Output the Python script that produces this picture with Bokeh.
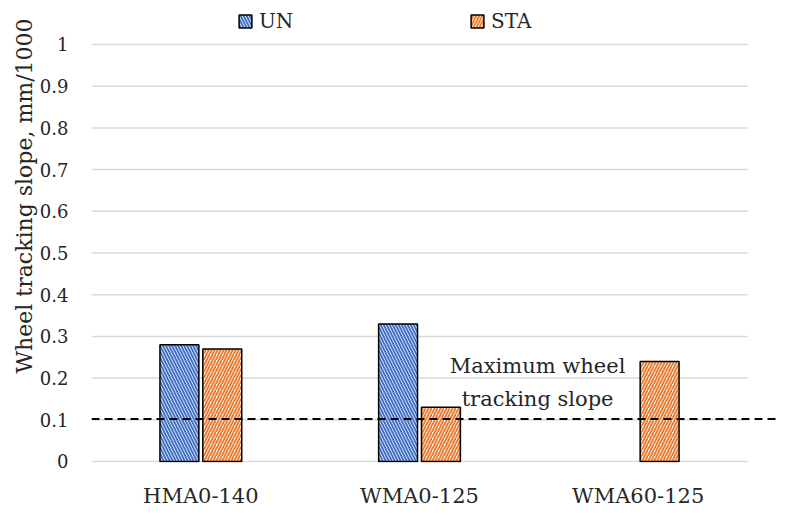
import numpy as np
from bokeh.plotting import figure
from bokeh.models import Range1d, FixedTicker, Span, Title, Legend, LegendItem, ColumnDataSource
from bokeh.embed import file_html
from bokeh.resources import INLINE

# ---- data ----
categories = ["HMA0-140", "WMA0-125", "WMA60-125"]
un_values = [0.28, 0.33, None]
sta_values = [0.27, 0.13, 0.24]
y_ticks = [0, 0.1, 0.2, 0.3, 0.4, 0.5, 0.6, 0.7, 0.8, 0.9, 1.0]
y_tick_labels = ["0", "0.1", "0.2", "0.3", "0.4", "0.5", "0.6", "0.7", "0.8", "0.9", "1"]
limit_value = 0.102
limit_text = ["Maximum wheel", "tracking slope"]
y_title = "Wheel tracking slope, mm/1000"

FONT = "DejaVu Serif"
TXT = "#262626"
BLUE = "#4472C4"
ORANGE = "#ED7D31"

centers = [i + 0.5 for i in range(len(categories))]
off = 0.098
bw = 0.178

un_src = ColumnDataSource(dict(
    x=[c - off for c, v in zip(centers, un_values) if v is not None],
    top=[v for v in un_values if v is not None]))
sta_src = ColumnDataSource(dict(
    x=[c + off for c, v in zip(centers, sta_values) if v is not None],
    top=[v for v in sta_values if v is not None]))

p = figure(width=787, height=515, output_backend="svg", toolbar_location=None,
           x_range=Range1d(0, 3.1417), y_range=Range1d(-0.0024, 1.1055),
           min_border_left=91, min_border_right=9, min_border_top=0, min_border_bottom=53)
p.title.visible = False
p.outline_line_color = None
p.xgrid.visible = False
p.ygrid.visible = False

# gridlines limited to category span
p.segment(x0=0, x1=len(categories), y0=y_ticks, y1=y_ticks, line_color="#d9d9d9", line_width=1.5)

r_un = p.vbar(x="x", top="top", bottom=0, width=bw, source=un_src,
              fill_color="white", hatch_pattern="left_diagonal_line", hatch_color=BLUE,
              hatch_scale=6, hatch_weight=2.0, line_color="black", line_width=1.5)
r_sta = p.vbar(x="x", top="top", bottom=0, width=bw, source=sta_src,
               fill_color="white", hatch_pattern="right_diagonal_line", hatch_color=ORANGE,
               hatch_scale=6, hatch_weight=2.0, line_color="black", line_width=1.5)

p.add_layout(Span(location=limit_value, dimension="width", line_color="black",
                  line_width=2, line_dash="8 5"))

p.text(x=[2.04, 2.04], y=[0.23, 0.151], text=limit_text, text_align="center",
       text_baseline="middle", text_font={"value": FONT}, text_font_size="21px", text_color=TXT)

# axes
p.yaxis.ticker = FixedTicker(ticks=y_ticks)
p.yaxis.major_label_overrides = {t: l for t, l in zip(y_ticks, y_tick_labels)}
p.yaxis.axis_line_color = None
p.yaxis.major_tick_line_color = None
p.yaxis.minor_tick_line_color = None
p.yaxis.major_label_standoff = 17
p.yaxis.major_label_text_font = FONT
p.yaxis.major_label_text_font_size = "18px"
p.yaxis.major_label_text_color = TXT

p.xaxis.ticker = FixedTicker(ticks=centers)
p.xaxis.major_label_overrides = {c: n for c, n in zip(centers, categories)}
p.xaxis.axis_line_color = None
p.xaxis.major_tick_line_color = None
p.xaxis.minor_tick_line_color = None
p.xaxis.major_label_standoff = 15
p.xaxis.major_label_text_font = FONT
p.xaxis.major_label_text_font_size = "21px"
p.xaxis.major_label_text_color = TXT

p.add_layout(Title(text=y_title, align="left", offset=89, text_font=FONT,
                   text_font_size="22px", text_font_style="normal", text_color=TXT,
                   standoff=0), "left")

legend = Legend(items=[LegendItem(label="UN", renderers=[r_un]),
                       LegendItem(label="STA", renderers=[r_sta])],
                orientation="horizontal", location=(146, 429),
                glyph_width=16, glyph_height=16, label_standoff=6, label_width=60,
                spacing=150, padding=0, margin=0, border_line_color=None,
                background_fill_alpha=0, label_text_font=FONT,
                label_text_font_size="20px", label_text_color=TXT)
p.add_layout(legend)

open("out.html", "w").write(file_html(p, INLINE))
